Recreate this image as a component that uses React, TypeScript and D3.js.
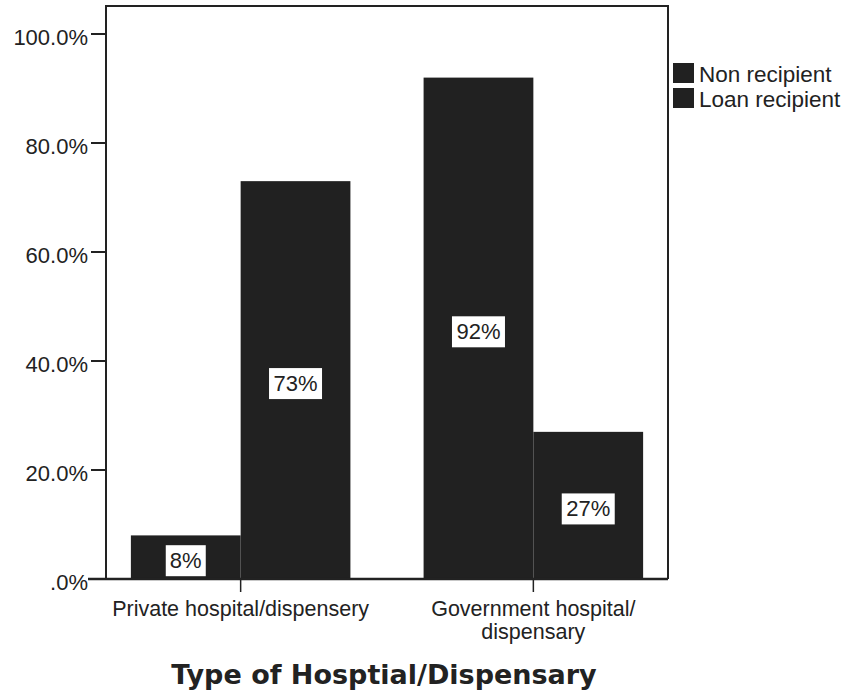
import React from "react";
import * as d3 from "d3";

// Hospital type categories and the share of each loan group (percent)
const categories = ["Private hospital/dispensery", "Government hospital/\ndispensary"];
const seriesNames = ["Non recipient", "Loan recipient"];
const nonRecipient = [8, 92];
const loanRecipient = [73, 27];
const yTicks = [0, 20, 40, 60, 80, 100];
const yTickLabels = [".0%", "20.0%", "40.0%", "60.0%", "80.0%", "100.0%"];
const xTitle = "Type of Hosptial/Dispensary";

const W = 850;
const H = 693;
const left = 106;
const right = 668;
const top = 6;
const bottom = 579;
const barColor = "#212121";
const font = "'Liberation Sans', Arial, sans-serif";

export default function App() {
  const x = d3.scaleBand<string>().domain(categories).range([left, right]).paddingInner(0.25).paddingOuter(0.085);
  const xs = d3.scaleBand<string>().domain(seriesNames).range([0, x.bandwidth()]);
  const y = d3.scaleLinear().domain([0, 100]).range([bottom, 34]);

  const rows = categories.map((c, i) => ({ c, vals: [nonRecipient[i], loanRecipient[i]] }));

  return (
    <svg width={W} height={H} style={{ position: "absolute", left: 0, top: 0, background: "#fff" }}>
      {/* bars */}
      {rows.map((r) =>
        r.vals.map((v, j) => {
          const bx = (x(r.c) as number) + (xs(seriesNames[j]) as number);
          return (
            <rect key={r.c + j} x={bx} y={y(v)} width={xs.bandwidth()} height={bottom - y(v)} fill={barColor} />
          );
        })
      )}
      {/* value labels */}
      {rows.map((r) =>
        r.vals.map((v, j) => {
          const cx = (x(r.c) as number) + (xs(seriesNames[j]) as number) + xs.bandwidth() / 2;
          const cy = (y(v) + y(0)) / 2 + 3;
          const label = `${v}%`;
          const bw = label.length * 13 + 14;
          return (
            <g key={"l" + r.c + j}>
              <rect x={cx - bw / 2} y={cy - 15} width={bw} height={31} fill="#fff" />
              <text x={cx} y={cy + 8} textAnchor="middle" fontFamily={font} fontSize={22} fill="#222">
                {label}
              </text>
            </g>
          );
        })
      )}
      {/* frame */}
      <path d={`M${left},${bottom}V${top}H${right}V${bottom}`} fill="none" stroke="#222" strokeWidth={2} />
      <line x1={88} x2={right} y1={bottom} y2={bottom} stroke="#222" strokeWidth={2.5} />
      {/* y axis ticks */}
      {yTicks.map((t, i) => (
        <g key={"y" + t}>
          <line x1={91} x2={left} y1={y(t)} y2={y(t)} stroke="#222" strokeWidth={2} />
          <text x={88} y={y(t) + 11} textAnchor="end" fontFamily={font} fontSize={22} fill="#222">
            {yTickLabels[i]}
          </text>
        </g>
      ))}
      {/* x axis ticks and labels */}
      {categories.map((c) => {
        const cx = (x(c) as number) + x.bandwidth() / 2;
        return (
          <g key={"x" + c}>
            <line x1={cx} x2={cx} y1={bottom} y2={bottom + 13} stroke="#222" strokeWidth={1.5} />
            {c.split("\n").map((line, k) => (
              <text key={k} x={cx} y={616 + k * 23} textAnchor="middle" fontFamily={font} fontSize={21.5} fill="#222">
                {line}
              </text>
            ))}
          </g>
        );
      })}
      <text x={384} y={684} textAnchor="middle" fontFamily="'DejaVu Sans', Verdana, sans-serif" fontWeight="bold" fontSize={27} fill="#222">
        {xTitle}
      </text>
      {/* legend */}
      {seriesNames.map((s, i) => (
        <g key={"lg" + s}>
          <rect x={673} y={63 + i * 25} width={21} height={20} fill={barColor} />
          <text x={699} y={82 + i * 25} fontFamily={font} fontSize={22.5} fill="#222">
            {s}
          </text>
        </g>
      ))}
    </svg>
  );
}
